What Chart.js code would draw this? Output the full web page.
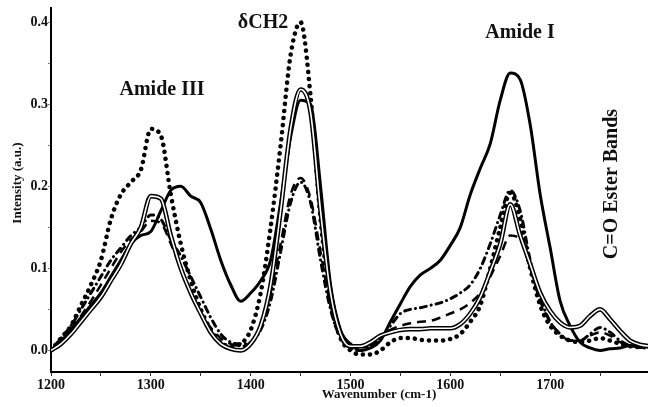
<!DOCTYPE html>
<html>
<head>
<meta charset="utf-8">
<script src="https://cdn.jsdelivr.net/npm/chart.js@4.4.1/dist/chart.umd.min.js"></script>
<style>
  html, body { margin: 0; padding: 0; background: #fff; }
  #wrap { width: 648px; height: 407px; }
</style>
</head>
<body>
<div id="wrap"><canvas id="myChart" width="648" height="407"></canvas></div>
<script>
// wavenumber grid (cm-1)
var wavenumber = [1200,1210,1220,1230,1240,1250,1260,1270,1280,1290,
                  1300,1310,1320,1330,1340,1350,1360,1370,1380,1390,
                  1400,1410,1420,1430,1440,1450,1460,1470,1480,1490,
                  1500,1510,1520,1530,1540,1550,1560,1570,1580,1590,
                  1600,1610,1620,1630,1640,1650,1660,1670,1680,1690,
                  1700,1710,1720,1730,1740,1750,1760,1770,1780,1790,1800];

// thick solid line
var solidLine = [0.0,0.01,0.025,0.04,0.055,0.07,0.09,0.11,0.13,0.14,
                 0.145,0.17,0.195,0.2,0.188,0.18,0.148,0.11,0.08,0.06,
                 0.07,0.085,0.11,0.18,0.26,0.305,0.3,0.2,0.08,0.025,
                 0.008,0.0,0.003,0.012,0.035,0.057,0.078,0.092,0.1,0.11,
                 0.128,0.15,0.19,0.222,0.252,0.305,0.338,0.33,0.275,0.19,
                 0.125,0.06,0.03,0.01,0.003,0.0,0.002,0.003,0.006,0.004,0.006];

// double (outlined) line
var doubleLine = [0.0,0.008,0.02,0.035,0.05,0.065,0.085,0.105,0.13,0.15,
                  0.188,0.185,0.14,0.1,0.07,0.045,0.022,0.008,0.002,0.0,
                  0.008,0.03,0.08,0.17,0.27,0.318,0.29,0.17,0.07,0.02,
                  0.005,0.005,0.01,0.018,0.022,0.025,0.026,0.026,0.027,0.027,
                  0.027,0.032,0.045,0.065,0.096,0.13,0.178,0.14,0.105,0.07,
                  0.048,0.034,0.028,0.03,0.042,0.05,0.038,0.024,0.012,0.007,0.005];

// large dots
var dottedLine = [0.0,0.015,0.03,0.055,0.08,0.11,0.16,0.19,0.205,0.22,
                  0.27,0.262,0.19,0.13,0.085,0.05,0.025,0.01,0.005,0.008,
                  0.025,0.07,0.15,0.25,0.36,0.4,0.31,0.16,0.06,0.015,
                  0.0,-0.005,-0.005,0.0,0.01,0.015,0.015,0.013,0.012,0.012,
                  0.014,0.02,0.035,0.055,0.1,0.15,0.192,0.16,0.1,0.055,
                  0.03,0.018,0.012,0.01,0.012,0.015,0.012,0.008,0.005,0.004,0.004];

// dashed line
var dashedLine = [0.0,0.012,0.025,0.042,0.06,0.08,0.1,0.12,0.135,0.145,
                  0.158,0.155,0.13,0.1,0.07,0.045,0.028,0.015,0.008,0.005,
                  0.01,0.03,0.07,0.13,0.19,0.21,0.185,0.12,0.055,0.02,
                  0.005,0.003,0.008,0.018,0.025,0.03,0.033,0.035,0.036,0.04,
                  0.045,0.05,0.058,0.07,0.09,0.115,0.14,0.135,0.1,0.06,
                  0.035,0.02,0.012,0.012,0.018,0.022,0.018,0.01,0.006,0.005,0.004];

// dash-dot line
var dashDotLine = [0.0,0.015,0.03,0.05,0.07,0.09,0.11,0.125,0.14,0.15,
                   0.165,0.16,0.135,0.115,0.09,0.065,0.04,0.02,0.01,0.008,
                   0.01,0.025,0.06,0.12,0.18,0.205,0.18,0.11,0.05,0.015,
                   0.003,0.0,0.005,0.015,0.03,0.045,0.05,0.052,0.055,0.058,
                   0.063,0.07,0.08,0.1,0.13,0.165,0.195,0.17,0.11,0.065,
                   0.035,0.02,0.012,0.012,0.02,0.028,0.022,0.012,0.006,0.004,0.004];

var xTicks = [1200,1250,1300,1350,1400,1450,1500,1550,1600,1650,1700,1750];
var yTicks = [0.0,0.05,0.1,0.15,0.2,0.25,0.3,0.35,0.4];

function toPoints(values){
    var pts = [];
    for (var i = 0; i < wavenumber.length; i++) {
        pts.push({x: wavenumber[i], y: values[i]});
    }
    return pts;
}

var serif = '"Liberation Serif", "DejaVu Serif", serif';

var textPlugin = {
    id: 'labels',
    afterDraw: function(chart){
        var c = chart.ctx;
        c.save();
        c.fillStyle = '#111';
        c.textAlign = 'center';
        c.textBaseline = 'middle';
        c.font = 'bold 20px ' + serif;
        c.fillText('Amide III', 162, 90);
        c.fillText('\u03B4CH2', 263, 23);
        c.fillText('Amide I', 520, 33);
        c.save();
        c.translate(612, 184);
        c.rotate(-Math.PI / 2);
        c.fillText('C=O Ester Bands', 0, 0);
        c.restore();
        c.font = 'bold 13px ' + serif;
        c.fillText('Wavenumber (cm-1)', 379, 395);
        c.save();
        c.translate(18, 183);
        c.rotate(-Math.PI / 2);
        c.fillText('Intensity (a.u.)', 0, 0);
        c.restore();
        c.restore();
    }
};

document.addEventListener('DOMContentLoaded', drawChart);

function drawChart(){
    var ctx = document.getElementById('myChart').getContext('2d');
    var common = {pointRadius: 0, fill: false, cubicInterpolationMode: 'monotone'};
    var chart = new Chart(ctx, {
        type: 'line',
        data: {
            datasets: [
                Object.assign({label: 'double core', data: toPoints(doubleLine), borderColor: '#fff', borderWidth: 1.6}, common),
                Object.assign({label: 'double', data: toPoints(doubleLine), borderColor: '#000', borderWidth: 4.6}, common),
                Object.assign({label: 'solid', data: toPoints(solidLine), borderColor: '#000', borderWidth: 3}, common),
                Object.assign({label: 'dotted', data: toPoints(dottedLine), borderColor: '#000', borderWidth: 4.5,
                               borderDash: [0.1, 7], borderCapStyle: 'round'}, common),
                Object.assign({label: 'dashed', data: toPoints(dashedLine), borderColor: '#000', borderWidth: 2.5,
                               borderDash: [9, 6]}, common),
                Object.assign({label: 'dash-dot', data: toPoints(dashDotLine), borderColor: '#000', borderWidth: 3,
                               borderDash: [0.1, 5, 6, 5], borderCapStyle: 'round'}, common)
            ]
        },
        options: {
            responsive: false,
            animation: false,
            layout: {padding: {top: 2, left: 0, right: 0, bottom: 0}},
            plugins: {legend: {display: false}, tooltip: {enabled: false}},
            scales: {
                x: {
                    type: 'linear',
                    min: 1200,
                    max: 1798,
                    afterFit: function(s){ s.height = 35; },
                    afterBuildTicks: function(s){ s.ticks = xTicks.map(function(v){ return {value: v}; }); },
                    border: {display: true, color: '#000', width: 2},
                    grid: {drawOnChartArea: false, tickLength: 4, color: '#333', lineWidth: 1},
                    ticks: {
                        autoSkip: false, maxRotation: 0, padding: 1, color: '#111',
                        font: {family: serif, size: 14, weight: 'bold'},
                        callback: function(v){ return v % 100 === 0 ? String(v) : ''; }
                    }
                },
                y: {
                    min: -0.0263,
                    max: 0.4168,
                    afterFit: function(s){ s.width = 51; },
                    afterBuildTicks: function(s){ s.ticks = yTicks.map(function(v){ return {value: v}; }); },
                    border: {display: true, color: '#000', width: 2},
                    grid: {drawOnChartArea: false, tickLength: 3, color: '#777', lineWidth: 1},
                    ticks: {
                        autoSkip: false, padding: 0, color: '#111',
                        font: {family: serif, size: 14, weight: 'bold'},
                        callback: function(v){
                            var r = Math.round(v * 100);
                            return r % 10 === 0 ? (r / 100).toFixed(1) : '';
                        }
                    }
                }
            }
        },
        plugins: [textPlugin]
    });
}
</script>
</body>
</html>
